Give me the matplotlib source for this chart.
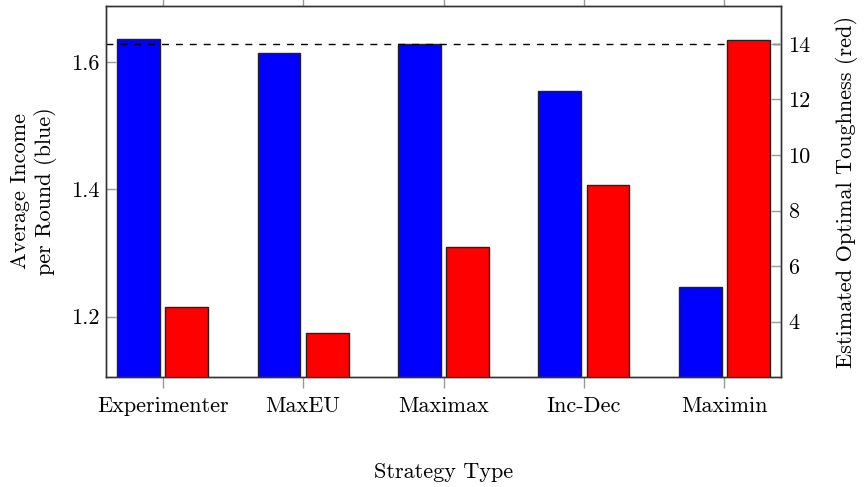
import numpy as np
import matplotlib.pyplot as plt

plt.rcParams['font.family'] = 'serif'
plt.rcParams['font.serif'] = ['cmr10', 'DejaVu Serif']
plt.rcParams['axes.formatter.use_mathtext'] = True

# data
strategies = ["Experimenter", "MaxEU", "Maximax", "Inc-Dec", "Maximin"]
income = [1.635, 1.613, 1.628, 1.554, 1.247]       # blue, left axis
toughness = [4.52, 3.58, 6.70, 8.92, 14.14]        # red, right axis
reference_income = 1.628                           # dashed line

x = np.arange(len(strategies))
width = 0.305
offset = 0.172
fs = 16

fig = plt.figure(figsize=(8.67, 4.87), dpi=100)
ax = fig.add_axes([0.1223, 0.2253, 0.7785, 0.763])
ax2 = ax.twinx()

ax.bar(x - offset, income, width, color='#0000ff', edgecolor='#222222', linewidth=1.0)
ax.axhline(reference_income, color='black', linestyle=(0, (5, 5)), linewidth=1.0)
ax2.bar(x + offset, toughness, width, color='#ff0000', edgecolor='#222222', linewidth=1.0)

ax.set_xlim(-0.404, 4.404)
ax.set_ylim(1.105, 1.688)
ax2.set_ylim(2.0, 15.37)

ax.set_xticks(x)
ax.set_xticklabels(strategies, fontsize=fs)
ax.set_yticks([1.2, 1.4, 1.6])
ax.set_yticklabels(["1.2", "1.4", "1.6"], fontsize=fs)
ax2.set_yticks([4, 6, 8, 10, 12, 14])
ax2.set_yticklabels(["4", "6", "8", "10", "12", "14"], fontsize=fs)

ax.tick_params(axis='x', direction='out', top=True, length=8, color='#999999', width=1.0, pad=6)
ax.tick_params(axis='y', direction='in', length=7, color='#999999', width=1.0, pad=5)
ax2.tick_params(axis='y', direction='in', length=7, color='#999999', width=1.0, pad=5)

for a in (ax, ax2):
    for s in a.spines.values():
        s.set_color('#333333')
        s.set_linewidth(1.0)

ax.set_ylabel("Average Income\nper Round (blue)", fontsize=fs, labelpad=10)
ax2.set_ylabel("Estimated Optimal Toughness (red)", fontsize=fs, labelpad=18)
ax.set_xlabel("Strategy Type", fontsize=fs, labelpad=33)

fig.savefig("out.png", dpi=100)
